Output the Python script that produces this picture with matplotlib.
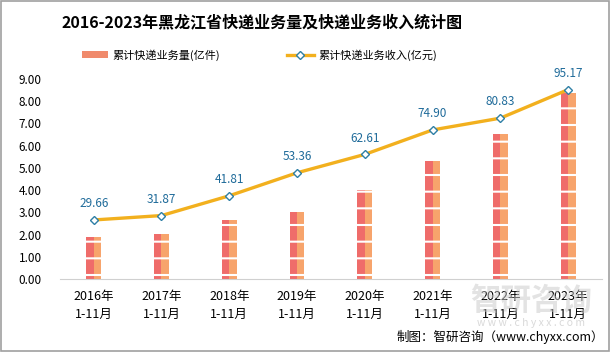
import numpy as np
import matplotlib.pyplot as plt
from matplotlib.patches import Rectangle, Patch
from matplotlib.lines import Line2D

plt.rcParams['font.family'] = ['Noto Sans CJK SC', 'DejaVu Sans']
plt.rcParams['hatch.linewidth'] = 1.5

years = ['2016年', '2017年', '2018年', '2019年', '2020年', '2021年', '2022年', '2023年']
period = '1-11月'
volume = [1.90, 2.03, 2.66, 3.02, 4.00, 5.33, 6.53, 8.39]      # 亿件
revenue = [29.66, 31.87, 41.81, 53.36, 62.61, 74.90, 80.83, 95.17]  # 亿元

fig = plt.figure(figsize=(6.1, 3.52), dpi=100)
ax = fig.add_axes([0.098, 0.2074, 0.889, 0.5682])
ax2 = ax.twinx()

x = np.arange(len(years))
w = 0.22
# two-tone bars imitate the stacked parcel boxes
ax.bar(x - w / 4, volume, width=w / 2, color='#ef6c6a', zorder=2)
ax.bar(x + w / 4, volume, width=w / 2, color='#f7a46c', zorder=2)
ax.bar(x, volume, width=w, facecolor='none', edgecolor='white', hatch='-',
       linewidth=0, zorder=3)

ax2.plot(x, revenue, color='#f2b01e', lw=2.4, marker='D', ms=4.5,
         mfc='white', mec='#2e7fa6', mew=1.0, zorder=4)
for xi, v in zip(x, revenue):
    ax2.annotate('%.2f' % v, (xi, v), xytext=(0, 7), textcoords='offset points',
                 ha='center', va='bottom', fontsize=8.5, color='#1f6b9a')

ax.set_xlim(-0.5, len(years) - 0.5)
ax.set_ylim(0, 9)
ax2.set_ylim(0, 100.5)
ax.set_yticks(np.arange(0, 10, 1))
ax.set_yticklabels(['%.2f' % t for t in range(10)], fontsize=8.5)
ax.tick_params(axis='y', length=0, pad=13)
ax.set_xticks(x)
ax.set_xticklabels(['%s\n%s' % (y, period) for y in years], fontsize=9, linespacing=1.5)
ax.tick_params(axis='x', length=0, pad=8)
ax2.set_yticks([])

for a in (ax, ax2):
    for s in ['top', 'right', 'left', 'bottom']:
        a.spines[s].set_visible(False)
ax.spines['bottom'].set_visible(True)
ax.spines['bottom'].set_color('#d0d0d0')

fig.text(0.429, 0.937, '2016-2023年黑龙江省快递业务量及快递业务收入统计图',
         ha='center', va='center', fontsize=11.5, fontweight='bold')

handles = [Patch(facecolor='#f08a6c', edgecolor='none'),
           Line2D([], [], color='#f2b01e', lw=2.4, marker='D', ms=4,
                  mfc='white', mec='#2e7fa6')]
fig.legend(handles, ['累计快递业务量(亿件)', '累计快递业务收入(亿元)'],
           loc='center', bbox_to_anchor=(0.425, 0.844), ncol=2, frameon=False,
           fontsize=8, columnspacing=6, handlelength=2.4, handleheight=0.5,
           handletextpad=0.4)

# watermark
fig.text(0.87, 0.145, '智研咨询', ha='center', va='center', fontsize=22,
         color='#c8c8c8', alpha=0.5, fontweight='bold', zorder=0)
fig.text(0.87, 0.082, 'w w w . c h y x x . c o m', ha='center', va='center',
         fontsize=7.5, color='#c0c0c0', alpha=0.6, zorder=0)

fig.text(0.99, 0.043, '制图：智研咨询（www.chyxx.com）', ha='right', va='center',
         fontsize=9)

fig.add_artist(Rectangle((0.001, 0.002), 0.997, 0.995, transform=fig.transFigure,
                         fill=False, edgecolor='#a0a0a0', lw=1.2))

fig.savefig('out.png', dpi=100)
